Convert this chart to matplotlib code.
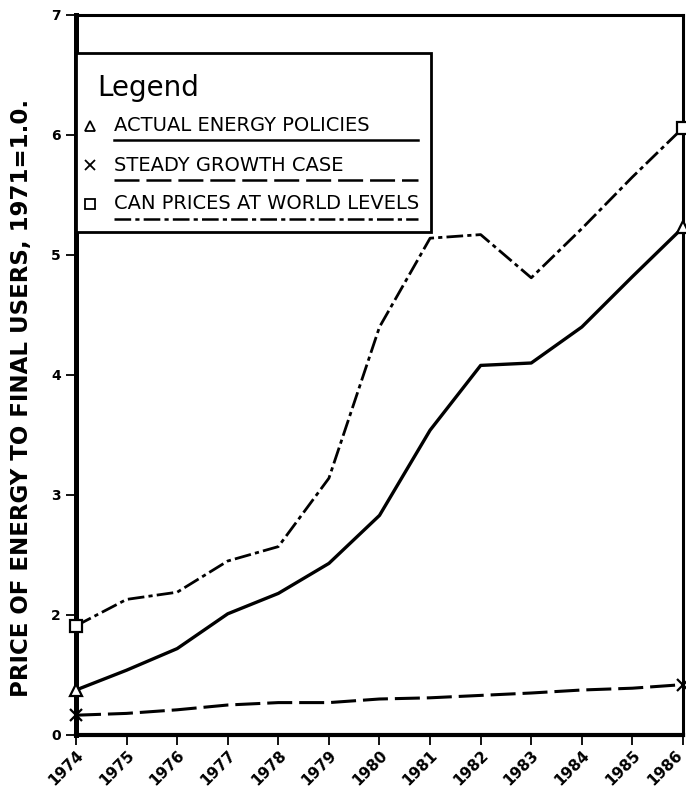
import matplotlib
matplotlib.use("Agg")
import matplotlib.pyplot as plt
import matplotlib.transforms as mtransforms
from matplotlib.patches import Rectangle
from matplotlib.lines import Line2D

plt.rcParams['lines.scale_dashes'] = False
plt.rcParams['font.family'] = ['DejaVu Sans']

# ---- data ----
years = list(range(1974, 1987))
actual = [1.375, 1.54, 1.72, 2.01, 2.18, 2.43, 2.83, 3.54, 4.08, 4.10, 4.40, 4.82, 5.23]
steady = [1.165, 1.18, 1.21, 1.25, 1.27, 1.27, 1.30, 1.31, 1.33, 1.35, 1.375, 1.39, 1.42]
can_world = [1.91, 2.13, 2.19, 2.45, 2.57, 3.14, 4.40, 5.14, 5.17, 4.81, 5.22, 5.65, 6.06]
series_labels = ["ACTUAL ENERGY POLICIES", "STEADY GROWTH CASE", "CAN PRICES AT WORLD LEVELS"]
ytick_vals = [1, 2, 3, 4, 5, 6, 7]
ytick_labels = ["0", "2", "3", "4", "5", "6", "7"]
ylabel = "PRICE OF ENERGY TO FINAL USERS, 1971=1.0."

fig = plt.figure(figsize=(6.86, 7.89), dpi=100)
ax = fig.add_axes([76/686, 1-735/789, 607/686, 720/789])

styles = [
    dict(ls='-', dashes=None, marker='^', ms=9),
    dict(ls='--', dashes=(18, 5), marker='x', ms=8),
    dict(ls='--', dashes=(12, 3, 3, 3), marker='s', ms=8),
]
data = [actual, steady, can_world]
lws = [2.4, 2.2, 2.0]
for vals, st, lw in zip(data, styles, lws):
    line, = ax.plot(years, vals, color='black', lw=lw, ls=st['ls'],
                    marker=st['marker'], ms=st['ms'], mfc='white', mec='black',
                    mew=1.6, markevery=[0, len(vals)-1], clip_on=False, zorder=5)
    if st['dashes'] is not None:
        line.set_dashes(st['dashes'])

ax.set_xlim(1974, 1986)
ax.set_ylim(1, 7)
ax.set_xticks(years)
ax.set_xticklabels([str(y) for y in years], rotation=45, ha='right', va='top',
                   rotation_mode='anchor', fontsize=11, fontweight='bold')
ax.set_yticks(ytick_vals)
ax.set_yticklabels(ytick_labels, fontsize=10, fontweight='bold')
ax.tick_params(axis='x', direction='out', length=7, width=1.3, pad=2)
ax.tick_params(axis='y', direction='out', length=7, width=1.3, pad=4)

# keep the last year label inside the figure
last = ax.get_xticklabels()[-1]
last.set_transform(last.get_transform() + mtransforms.ScaledTranslation(-6/72, 0, fig.dpi_scale_trans))

ax.spines['left'].set_linewidth(3.6)
ax.spines['bottom'].set_linewidth(3.0)
ax.spines['top'].set_linewidth(2.2)
ax.spines['right'].set_linewidth(2.2)

fig.text(22/686, 1-398/789, ylabel, rotation=90, ha='center', va='center',
         fontsize=16.5, fontweight='bold')

# ---- legend (drawn manually) ----
tr = ax.transAxes
ax.add_patch(Rectangle((0, 0.699), 0.585, 0.248, transform=tr, facecolor='white',
                       edgecolor='black', lw=2.0, zorder=4))
ax.text(0.035, 0.899, "Legend", transform=tr, fontsize=20, va='center', ha='left', zorder=6)
rows_y = [0.846, 0.791, 0.738]
under_y = [0.826, 0.771, 0.717]
for lab, st, ry, uy in zip(series_labels, styles, rows_y, under_y):
    ax.plot([0.023], [ry], transform=tr, marker=st['marker'], ms=7, mfc='white',
            mec='black', mew=1.3, ls='none', zorder=6)
    ax.text(0.062, ry, lab, transform=tr, fontsize=14, va='center', ha='left', zorder=6)
    ln = Line2D([0.062, 0.563], [uy, uy], transform=tr, color='black', lw=1.8, zorder=6)
    if st['dashes'] is not None:
        ln.set_dashes(st['dashes'])
    ax.add_line(ln)

fig.savefig("out.png", dpi=100)
